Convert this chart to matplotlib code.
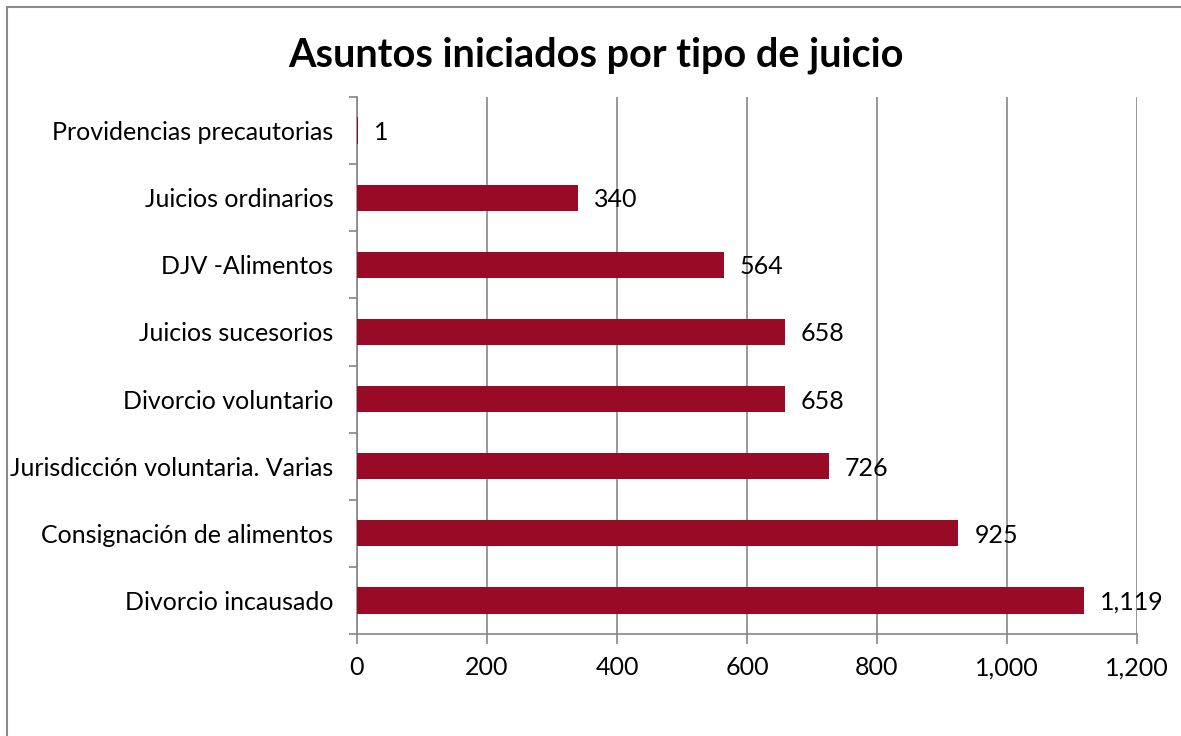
import matplotlib
matplotlib.use("Agg")
import matplotlib.pyplot as plt
from matplotlib.lines import Line2D
from matplotlib.ticker import FuncFormatter
import numpy as np

# datos del grafico (de abajo hacia arriba)
tipos = ["Divorcio incausado", "Consignación de alimentos",
         "Jurisdicción voluntaria. Varias", "Divorcio voluntario",
         "Juicios sucesorios", "DJV -Alimentos", "Juicios ordinarios",
         "Providencias precautorias"]
asuntos = [1119, 925, 726, 658, 658, 564, 340, 1]
xticks = [0, 200, 400, 600, 800, 1000, 1200]

plt.rcParams['font.family'] = ['Lato', 'DejaVu Sans']

fig = plt.figure(figsize=(11.81, 7.36), dpi=100)
ax = fig.add_axes([357/1181, 1-634/736, (1137-357)/1181, (634-97)/736])

y = np.arange(len(tipos))
ax.barh(y, asuntos, height=0.39, color="#990A26", linewidth=0, zorder=3)

for yi, v in zip(y, asuntos):
    ax.annotate(f"{v:,}", (v, yi), xytext=(16, -2), textcoords="offset pixels",
                ha="left", va="center", fontsize=18, color="black", zorder=4)

ax.set_xlim(0, 1200)
ax.set_ylim(-0.5, len(tipos) - 0.5)
ax.set_xticks(xticks)
ax.xaxis.set_major_formatter(FuncFormatter(lambda v, p: f"{int(v):,}"))
ax.set_yticks(y)
ax.set_yticklabels(tipos)
ax.set_yticks(np.arange(-0.5, len(tipos), 1), minor=True)

ax.grid(axis="x", color="#868686", linewidth=1.2, zorder=0)
for s in ["top", "right"]:
    ax.spines[s].set_visible(False)
for s in ["left", "bottom"]:
    ax.spines[s].set_color("#868686")
    ax.spines[s].set_linewidth(1.2)

ax.tick_params(axis="x", length=7, width=1.2, color="#868686", labelsize=18, pad=9)
ax.tick_params(axis="y", which="major", length=0, labelsize=18, pad=17)
ax.tick_params(axis="y", which="minor", length=6, width=1.2, color="#868686")

fig.text(596/1181, 1-55/736, "Asuntos iniciados por tipo de juicio", ha="center", va="center",
         fontsize=28.5, fontweight="bold")

# marco del area del grafico
fig.add_artist(Line2D([7/1181, 7/1181], [0, 1-7/736], color="#8c8c8c", linewidth=1.5))
fig.add_artist(Line2D([7/1181, 1], [1-7/736, 1-7/736], color="#8c8c8c", linewidth=1.5))

fig.savefig("out.png", dpi=100)
